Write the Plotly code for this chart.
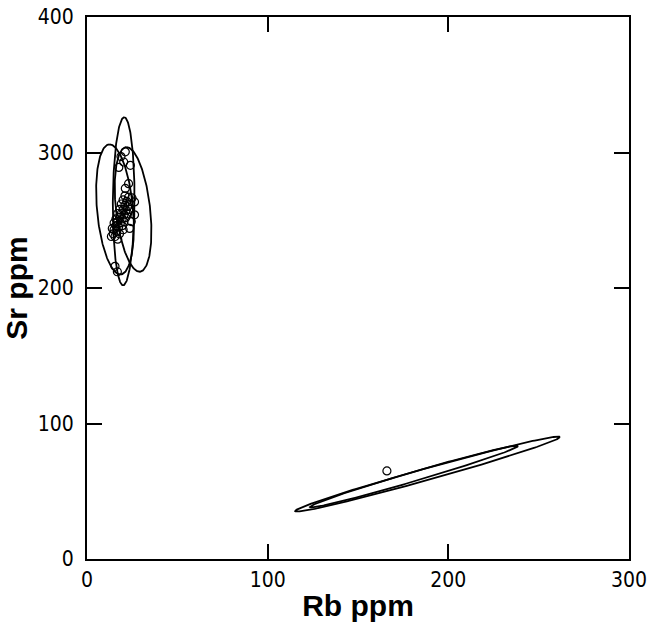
import numpy as np
import plotly.graph_objects as go

# ---- data ----
x_ticks = [0, 100, 200, 300]
y_ticks = [0, 100, 200, 300, 400]

# sample points (Rb ppm, Sr ppm)
rb_points = [21.2, 18.8, 20.3, 17.6, 24.0, 23.0, 21.2, 24.9, 26.3, 26.3, 24.5, 23.6,
             15.5, 16.8,
             13.5, 14.5, 15.0, 15.5, 16.0, 16.5, 17.0, 17.5, 18.0, 18.5, 19.0, 19.5,
             20.0, 20.5, 21.0, 21.5, 22.0, 22.5, 23.0, 16.0, 17.0, 18.0, 19.0, 20.0,
             21.0, 19.5, 20.5, 21.5, 22.5, 15.0, 14.0, 18.0, 17.0, 20.0, 23.5, 24.0,
             166.0]
sr_points = [300.5, 297.0, 293.0, 289.0, 290.5, 277.0, 273.5, 266.5, 263.5, 254.0, 249.0, 244.0,
             216.0, 212.0,
             238.0, 240.0, 243.0, 238.0, 246.0, 242.0, 249.0, 245.0, 252.0, 248.0, 255.0, 251.0,
             258.0, 254.0, 261.0, 257.0, 264.0, 260.0, 267.0, 251.0, 255.0, 258.0, 262.0, 265.0,
             268.0, 246.0, 249.0, 252.0, 255.0, 248.0, 244.0, 240.0, 236.0, 243.0, 258.0, 262.0,
             65.0]

# confidence ellipses: centre and two conjugate semi-axis vectors (data units)
ell_cx = [20.3, 15.5, 25.5, 188.5, 181.0]
ell_cy = [264.0, 258.0, 258.0, 62.7, 60.9]
ell_ax = [0.3, -3.0, -3.6, 73.3, 57.6]
ell_ay = [62.0, 48.0, 46.0, 27.3, 22.5]
ell_bx = [6.0, 10.0, 9.5, 0.0, 0.0]
ell_by = [0.0, 0.0, 0.0, 4.5, 3.6]

fig = go.Figure()

t = np.linspace(0, 2 * np.pi, 241)
for cx, cy, ax, ay, bx, by in zip(ell_cx, ell_cy, ell_ax, ell_ay, ell_bx, ell_by):
    fig.add_trace(go.Scatter(
        x=cx + ax * np.cos(t) + bx * np.sin(t),
        y=cy + ay * np.cos(t) + by * np.sin(t),
        mode="lines", line=dict(color="black", width=1.8),
        hoverinfo="skip", showlegend=False))

fig.add_trace(go.Scatter(
    x=rb_points, y=sr_points, mode="markers",
    marker=dict(symbol="circle-open", size=8, color="black", line=dict(width=1.2)),
    showlegend=False))

tick_font = dict(family="DejaVu Sans Condensed, Liberation Sans Narrow, sans-serif", size=21, color="black")
title_font = dict(family="Liberation Sans, Arial, sans-serif", size=30, color="black", weight="bold")

axis_common = dict(
    showgrid=False, zeroline=False, automargin=False,
    showline=True, linecolor="black", linewidth=2, mirror="ticks",
    ticks="inside", ticklen=15, tickwidth=2, tickcolor="black",
    tickfont=tick_font, ticklabeloverflow="allow",
)

fig.update_xaxes(range=[0, 300], tickvals=x_ticks, ticktext=[str(v) for v in x_ticks],
                 ticklabelstandoff=1,
                 title=dict(text="Rb ppm", font=title_font, standoff=4), **axis_common)
fig.update_yaxes(range=[0, 400], tickvals=y_ticks, ticktext=[str(v) for v in y_ticks],
                 ticklabelstandoff=7,
                 title=dict(text="Sr ppm", font=title_font, standoff=3), **axis_common)

fig.update_layout(
    width=648, height=633,
    margin=dict(l=87, r=19, t=17, b=74),
    paper_bgcolor="white", plot_bgcolor="white",
)

# remove the default 8 px page margin so the figure fills the window exactly
fig.write_html("out.html",
               config={"displayModeBar": False},
               post_script="document.body.style.margin='0';document.body.style.overflow='hidden';")
